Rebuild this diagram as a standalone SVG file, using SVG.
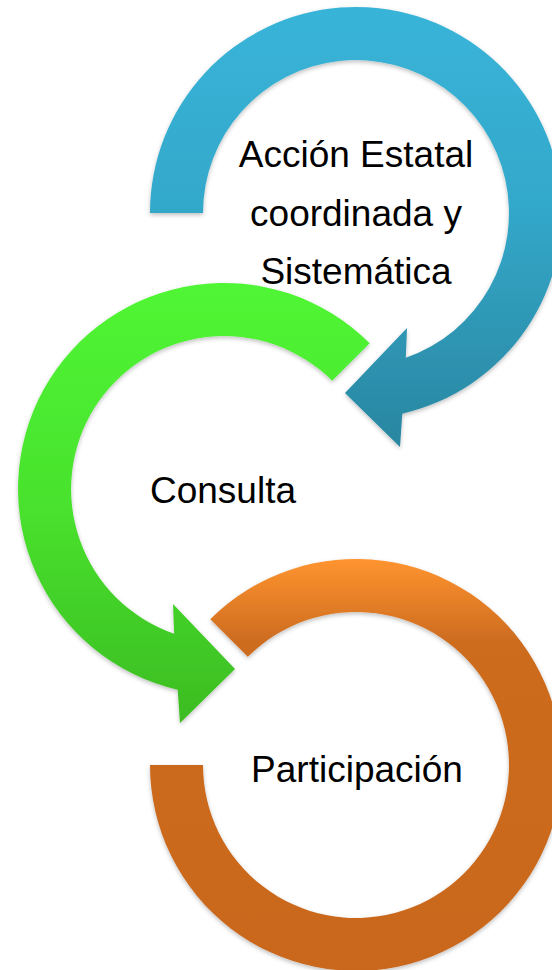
<svg xmlns="http://www.w3.org/2000/svg" width="552" height="970" viewBox="0 0 552 970">
<defs>
<linearGradient id="gBlue" x1="0" y1="0" x2="0" y2="1">
<stop offset="0" stop-color="#39B4D9"/>
<stop offset="0.45" stop-color="#33A8CA"/>
<stop offset="1" stop-color="#2A86A0"/>
</linearGradient>
<linearGradient id="gGreen" x1="0" y1="0" x2="0" y2="1">
<stop offset="0" stop-color="#50F634"/>
<stop offset="0.5" stop-color="#49E22E"/>
<stop offset="1" stop-color="#3CBC22"/>
</linearGradient>
<linearGradient id="gOrange" x1="0" y1="0" x2="0" y2="1">
<stop offset="0" stop-color="#FF9430"/>
<stop offset="0.2" stop-color="#CD6C1F"/>
<stop offset="1" stop-color="#C9681E"/>
</linearGradient>
<filter id="sh" x="-10%" y="-10%" width="120%" height="120%">
<feDropShadow dx="0" dy="2" stdDeviation="2" flood-color="#000" flood-opacity="0.25"/>
</filter>
</defs>
<style>
.lbl{font-family:"Liberation Sans",Arial,sans-serif;font-size:37px;fill:#000;text-anchor:middle}
</style>
<g id="node-participacion">
<path filter="url(#sh)" fill="url(#gOrange)" d="M210.3,619.3 A206,206 0 1 1 150,765 L203,765 A153,153 0 1 0 247.8,656.8 Z"/>
<text class="lbl" x="357" y="782">Participación</text>
</g>
<g id="node-consulta">
<path filter="url(#sh)" fill="url(#gGreen)" d="M369.7,343.3 A206,206 0 1 0 177.7,689.7 L180,723 L235,669 L173,604 L174.2,633.7 A153,153 0 1 1 332.2,380.8 Z"/>
<text class="lbl" x="223" y="503">Consulta</text>
</g>
<g id="node-accion">
<path filter="url(#sh)" fill="url(#gBlue)" d="M150,213 A206,206 0 1 1 402.3,413.7 L400,447 L345,393 L407,328 L405.8,357.7 A153,153 0 1 0 203,213 Z"/>
<text class="lbl" x="356" y="167">Acción Estatal</text>
<text class="lbl" x="356" y="226">coordinada y</text>
<text class="lbl" x="356" y="284">Sistemática</text>
</g>
<g id="connectors"></g>
</svg>
